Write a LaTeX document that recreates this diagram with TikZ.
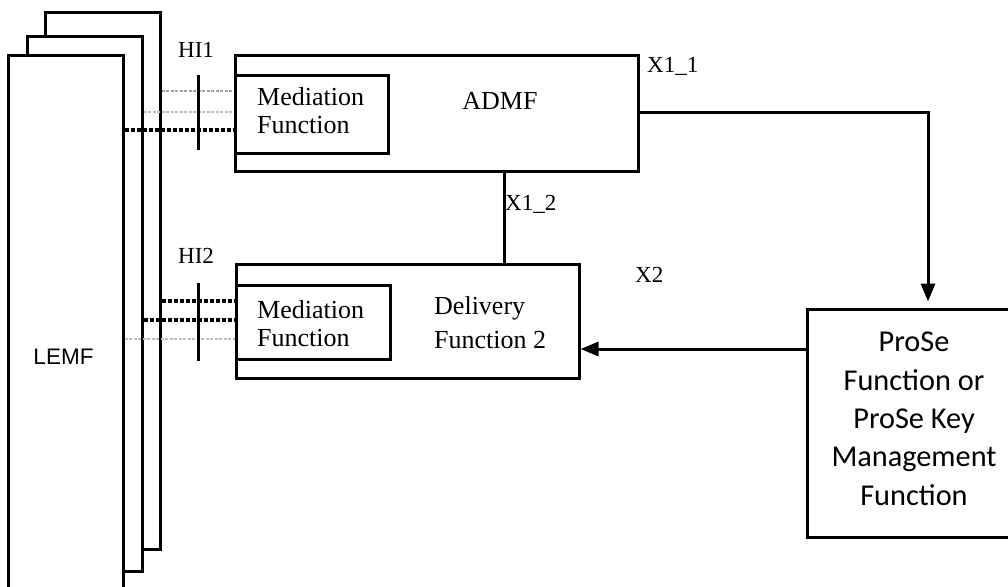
\documentclass[tikz,border=0pt]{standalone}
\usepackage{fontspec}
\setmainfont{Liberation Serif}
\newfontfamily\arialfont{Liberation Sans}
\newfontfamily\calfont{Carlito}
\usetikzlibrary{arrows.meta}
\begin{document}
\begin{tikzpicture}[x=1pt,y=-1pt,
  box/.style={draw,line width=3pt,rectangle,inner sep=0pt,fill=white},
  lbl/.style={inner sep=0pt,anchor=base west,font=\fontsize{23}{26}\selectfont},
  serif/.style={inner sep=0pt,anchor=base west,align=left},
  bar/.style={line width=3pt},
  blk/.style={line width=3.2pt,dash pattern=on 4pt off 2pt},
  gry/.style={line width=1.8pt,gray!75,dash pattern=on 3pt off 1.5pt},
  lgry/.style={line width=1.6pt,gray!50,dash pattern=on 3pt off 1.5pt},
  conn/.style={line width=3pt},
  arr/.style={line width=3pt,-{Triangle[length=18pt,width=14pt]}}]
\useasboundingbox (0,0) rectangle (1008,586);
% LEMF stack
\node[box,minimum width=115pt,minimum height=536pt] (lemf3) at (102.5,281) {};
\node[box,minimum width=115pt,minimum height=534pt] (lemf2) at (84.5,304) {};
\node[box,minimum width=115pt,minimum height=544pt] (lemf1) at (65.5,328) {};
\node[inner sep=0pt,anchor=base,font=\arialfont\fontsize{22.5}{26}\selectfont] (lemft) at (63.5,364) {LEMF};
% ADMF
\node[box,minimum width=403pt,minimum height=115pt] (admf) at (436.5,113.5) {};
\node[box,minimum width=153pt,minimum height=78pt] (med1) at (311.5,114) {};
\node[serif,font=\fontsize{26}{28}\selectfont] (med1t) at (257,133) {Mediation\\Function};
\node[inner sep=0pt,anchor=base,font=\fontsize{26}{28}\selectfont] (admft) at (500,109) {ADMF};
% Delivery
\node[box,minimum width=343pt,minimum height=114pt] (deliv) at (407.5,321) {};
\node[box,minimum width=154pt,minimum height=74pt] (med2) at (313,322) {};
\node[serif,font=\fontsize{26}{28}\selectfont] (med2t) at (257,346) {Mediation\\Function};
\node[serif,font=\fontsize{26}{34}\selectfont] (delivt) at (434,348) {Delivery\\Function 2};
% ProSe
\node[box,minimum width=205pt,minimum height=228pt] (prose) at (909.5,423) {};
\node[inner sep=0pt,anchor=base,align=center,font=\calfont\fontsize{30.3}{38.3}\selectfont] (proset) at (914,505) {ProSe\\Function or\\ProSe Key\\Management\\Function};
% labels
\node[lbl] (hi1) at (178,58) {HI1};
\node[lbl] (hi2) at (178,263) {HI2};
\node[lbl] (x11) at (647,72) {X1\_1};
\node[lbl] (x12) at (505,210) {X1\_2};
\node[lbl] (x2) at (635,282) {X2};
% HI bars
\coordinate (b1t) at (198,75); \coordinate (b1b) at (198,150);
\coordinate (b2t) at (198,283); \coordinate (b2b) at (198,361);
% HI1 dotted lines
\draw[gry] (lemf3.east |- 0,91) -- (med1.west |- 0,91);
\draw[lgry] (lemf2.east |- 0,112) -- (med1.west |- 0,112);
\draw[blk] (lemf1.east |- 0,130) -- (med1.west |- 0,130);
% HI2 dotted lines
\draw[blk] (lemf3.east |- 0,301) -- (med2.west |- 0,301);
\draw[blk] (lemf2.east |- 0,320) -- (med2.west |- 0,320);
\draw[lgry] (lemf1.east |- 0,339) -- (med2.west |- 0,339);
\draw[bar] (b1t) -- (b1b);
\draw[bar] (b2t) -- (b2b);
% connectors
\draw[conn] (admf.south -| 504,0) -- (deliv.north -| 504,0);
\coordinate (corner) at (928,112);
\draw[arr,shorten >=6pt] (admf.east |- corner) -- (corner) -- (prose.north -| corner);
\draw[arr] (prose.west |- 0,349) -- (deliv.east |- 0,349);
\end{tikzpicture}
\end{document}
